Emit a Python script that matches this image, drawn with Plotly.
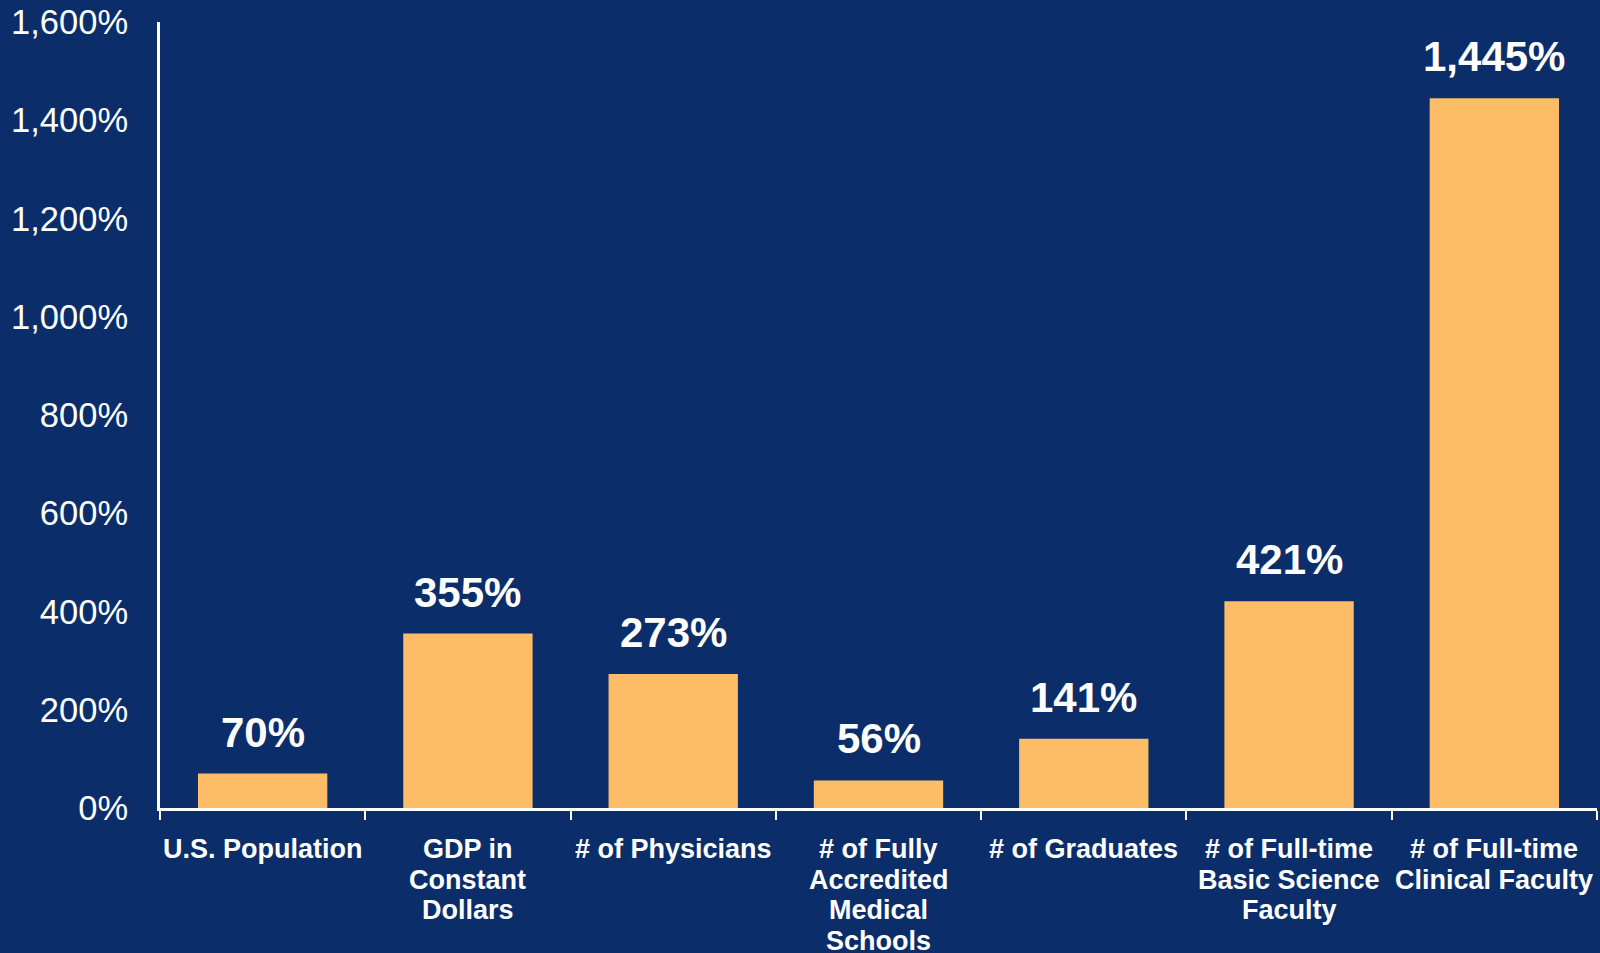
import plotly.graph_objects as go

categories = ["U.S. Population", "GDP in<br>Constant<br>Dollars", "# of Physicians",
              "# of Fully<br>Accredited<br>Medical<br>Schools", "# of Graduates",
              "# of Full-time<br>Basic Science<br>Faculty", "# of Full-time<br>Clinical Faculty"]
values = [70, 355, 273, 56, 141, 421, 1445]
value_labels = ["70%", "355%", "273%", "56%", "141%", "421%", "1,445%"]
y_ticks = [0, 200, 400, 600, 800, 1000, 1200, 1400, 1600]
y_tick_labels = ["0%", "200%", "400%", "600%", "800%", "1,000%", "1,200%", "1,400%", "1,600%"]

BG = "#0B2E6B"
BAR = "#FDBD67"
FONT = "Liberation Sans, Arial, sans-serif"

fig = go.Figure(go.Bar(x=categories, y=values, marker=dict(color=BAR, line=dict(width=0)),
                       hoverinfo="skip"))

# value labels above bars
for c, v, t in zip(categories, values, value_labels):
    fig.add_annotation(x=c, y=v, text="<b>%s</b>" % t, showarrow=False, yanchor="bottom",
                       yshift=16, font=dict(family=FONT, size=42, color="white"))

# category labels (one annotation per line for tight line spacing)
for c in categories:
    for i, line in enumerate(c.split("<br>")):
        fig.add_annotation(x=c, y=0, text="<b>%s</b>" % line, showarrow=False,
                           yanchor="middle", yshift=-(41 + 30.6 * i),
                           font=dict(family=FONT, size=27, color="white"))

fig.update_layout(
    width=1600, height=953,
    paper_bgcolor=BG, plot_bgcolor=BG,
    margin=dict(l=160, r=3, t=22, b=145),
    bargap=0.37, showlegend=False,
    font=dict(family=FONT, color="white"),
)
fig.update_xaxes(showline=True, linecolor="white", linewidth=3, ticks="outside",
                 tickson="boundaries", ticklen=9, tickwidth=2, tickcolor="white",
                 showticklabels=False, automargin=False, showgrid=False)
fig.update_yaxes(range=[0, 1600], tickvals=y_ticks, ticktext=y_tick_labels,
                 showline=True, linecolor="white", linewidth=3, automargin=False,
                 ticks="", showgrid=False, zeroline=False,
                 tickfont=dict(family=FONT, size=34.5, color="white"), ticklabelstandoff=22)

fig.write_html("out.html", config={"displayModeBar": False},
               post_script="document.body.style.margin='0';document.body.style.background='%s';" % BG)
